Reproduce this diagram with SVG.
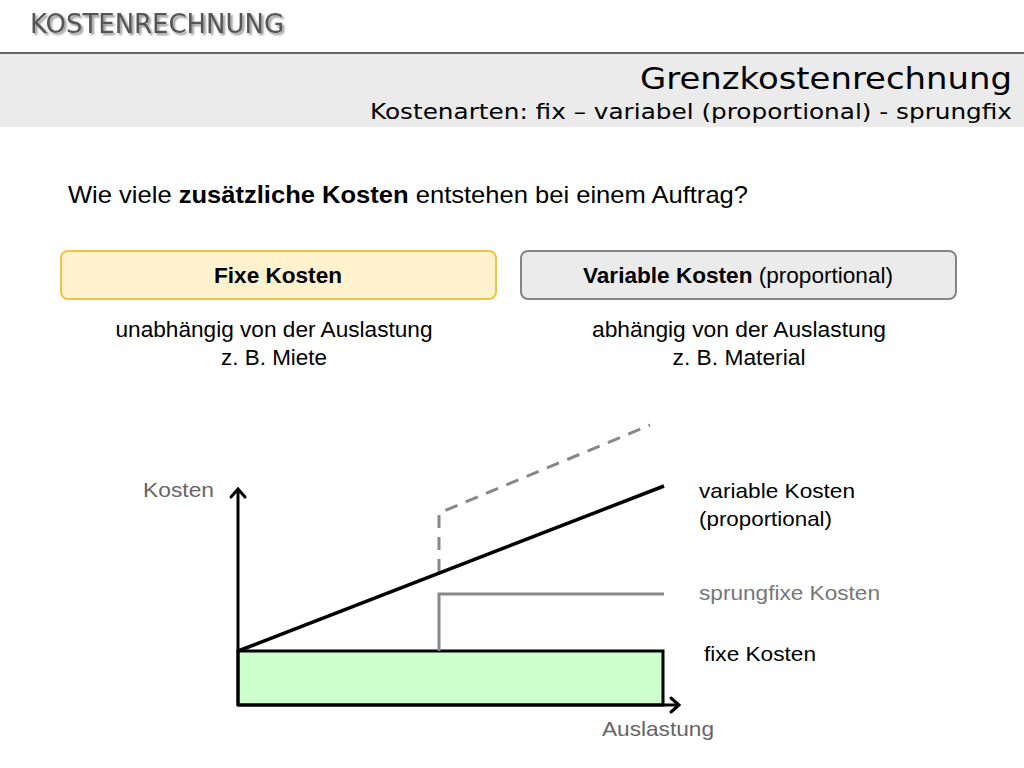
<svg xmlns="http://www.w3.org/2000/svg" width="1024" height="768" viewBox="0 0 1024 768">
<defs>
<style>
.sans{font-family:"Liberation Sans",Arial,sans-serif}
.dv{font-family:"DejaVu Sans",Verdana,sans-serif}
.gray{fill:#666}
.axis{stroke:#000;stroke-width:3;fill:none}
.arrow{stroke:#000;stroke-width:3;fill:none;stroke-linecap:round;stroke-linejoin:miter}
</style>
<filter id="sh" x="-5%" y="-20%" width="110%" height="150%">
<feGaussianBlur in="SourceAlpha" stdDeviation="1.2"/>
<feOffset dx="2" dy="2" result="b"/>
<feComponentTransfer><feFuncA type="linear" slope="0.45"/></feComponentTransfer>
<feMerge><feMergeNode/><feMergeNode in="SourceGraphic"/></feMerge>
</filter>
</defs>
<rect width="1024" height="768" fill="#fff"/>
<g id="header">
<text class="dv" x="30" y="33" font-size="27" fill="#555" textLength="254" lengthAdjust="spacingAndGlyphs" filter="url(#sh)">KOSTENRECHNUNG</text>
<rect x="0" y="53" width="1024" height="74" fill="#ebebeb"/>
<line x1="0" y1="53" x2="1024" y2="53" stroke="#666" stroke-width="2"/>
<text class="dv" x="1012" y="89" font-size="31" fill="#000" text-anchor="end" textLength="372" lengthAdjust="spacingAndGlyphs">Grenzkostenrechnung</text>
<text class="dv" x="1012" y="119" font-size="22" fill="#000" text-anchor="end" textLength="642" lengthAdjust="spacingAndGlyphs">Kostenarten: fix – variabel (proportional) - sprungfix</text>
</g>
<g id="question">
<text class="sans" x="68" y="203" font-size="24" fill="#000" textLength="680" lengthAdjust="spacingAndGlyphs">Wie viele <tspan font-weight="bold">zusätzliche Kosten</tspan> entstehen bei einem Auftrag?</text>
</g>
<g id="box-fix">
<rect x="61" y="251" width="435" height="48" rx="7" fill="#fff2cc" stroke="#f3c144" stroke-width="2"/>
<text class="sans" x="278" y="283" font-size="22" font-weight="bold" text-anchor="middle" textLength="128" lengthAdjust="spacingAndGlyphs">Fixe Kosten</text>
</g>
<g id="box-var">
<rect x="521" y="251" width="435" height="48" rx="7" fill="#ebebeb" stroke="#858585" stroke-width="2"/>
<text class="sans" x="583" y="283" font-size="22" textLength="310" lengthAdjust="spacingAndGlyphs"><tspan font-weight="bold">Variable Kosten</tspan> (proportional)</text>
</g>
<g id="desc-fix">
<text class="sans" x="274" y="337" font-size="22" text-anchor="middle" textLength="317" lengthAdjust="spacingAndGlyphs">unabhängig von der Auslastung</text>
<text class="sans" x="274" y="365" font-size="22" text-anchor="middle" textLength="106" lengthAdjust="spacingAndGlyphs">z. B. Miete</text>
</g>
<g id="desc-var">
<text class="sans" x="739" y="337" font-size="22" text-anchor="middle" textLength="294" lengthAdjust="spacingAndGlyphs">abhängig von der Auslastung</text>
<text class="sans" x="739" y="365" font-size="22" text-anchor="middle" textLength="133" lengthAdjust="spacingAndGlyphs">z. B. Material</text>
</g>
<g id="fix-area">
<rect x="238" y="651" width="425" height="54" fill="#ccffcc" stroke="#000" stroke-width="3"/>
</g>
<g id="connectors">
<polyline points="439,651 439,594 664,594" fill="none" stroke="#888" stroke-width="3"/>
<polyline points="439,572 439,513 650,425" fill="none" stroke="#888" stroke-width="3" stroke-dasharray="13,9"/>
<line x1="238" y1="651" x2="664" y2="486" stroke="#000" stroke-width="3.5"/>
<line class="axis" x1="238" y1="705" x2="238" y2="489"/>
<polyline class="arrow" points="231,497 238,489 245,497"/>
<line class="axis" x1="238" y1="705" x2="679" y2="705"/>
<polyline class="arrow" points="671,698 679,705 671,712"/>
</g>
<g id="labels">
<text class="sans gray" x="143" y="497" font-size="21" textLength="71" lengthAdjust="spacingAndGlyphs">Kosten</text>
<text class="sans gray" x="602" y="736" font-size="21" textLength="112" lengthAdjust="spacingAndGlyphs">Auslastung</text>
<text class="sans" x="699" y="498" font-size="21" textLength="156" lengthAdjust="spacingAndGlyphs">variable Kosten</text>
<text class="sans" x="699" y="526" font-size="21" textLength="133" lengthAdjust="spacingAndGlyphs">(proportional)</text>
<text class="sans" x="699" y="600" font-size="21" fill="#777" textLength="181" lengthAdjust="spacingAndGlyphs">sprungfixe Kosten</text>
<text class="sans" x="704" y="661" font-size="21" textLength="112" lengthAdjust="spacingAndGlyphs">fixe Kosten</text>
</g>
</svg>
